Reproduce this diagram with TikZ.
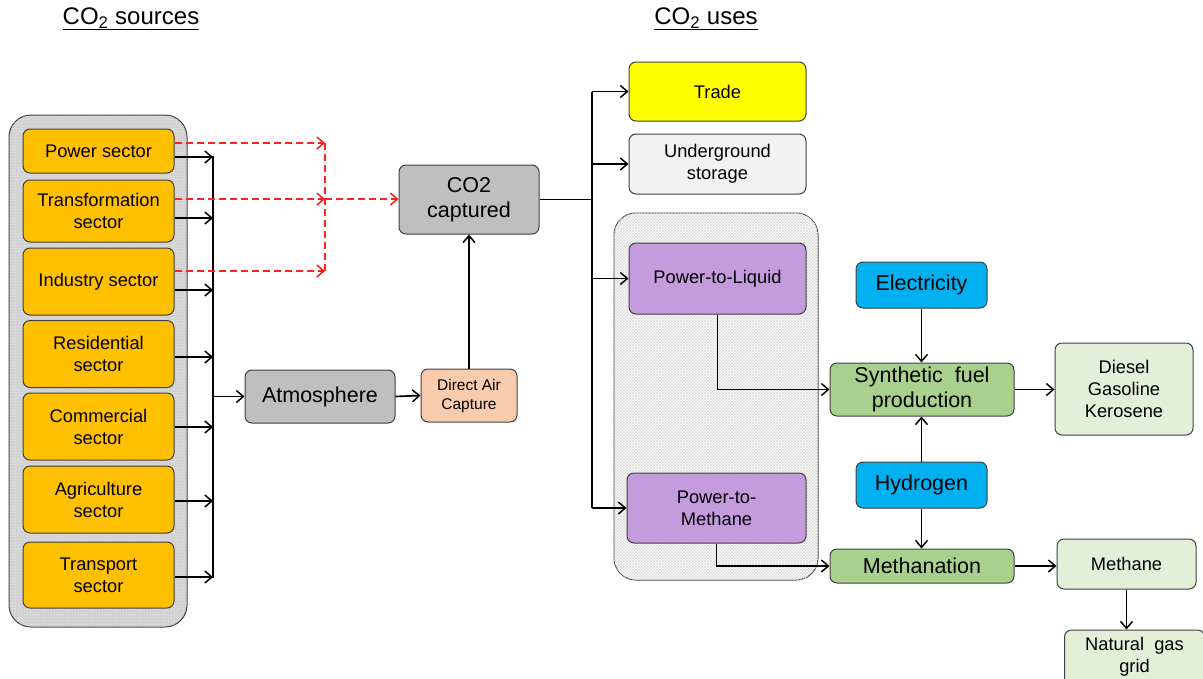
\documentclass[tikz,border=0pt]{standalone}
\usepackage{fontspec}
\setmainfont{Liberation Sans}
\usetikzlibrary{arrows.meta,patterns}
\definecolor{bordc}{HTML}{404040}
\definecolor{orF}{HTML}{FFC000}
\definecolor{grF}{HTML}{BFBFBF}
\definecolor{peF}{HTML}{F8CBAD}
\definecolor{yeF}{HTML}{FFFF00}
\definecolor{lgF}{HTML}{F2F2F2}
\definecolor{puF}{HTML}{C49BDD}
\definecolor{gnF}{HTML}{A9D18E}
\definecolor{blF}{HTML}{00B0F0}
\definecolor{lnF}{HTML}{E2F0D9}
\definecolor{rdL}{HTML}{FF2020}
\begin{document}
\begin{tikzpicture}[x=1pt,y=-1pt,
  box/.style={draw=bordc, line width=1pt, rounded corners=7pt, align=center, inner sep=2pt},
  fs/.style={font=\fontsize{18.3}{22}\selectfont},
  fl/.style={font=\fontsize{21.5}{25}\selectfont},
  ft/.style={font=\fontsize{15.5}{19}\selectfont},
  srcbox/.style={box, fs, fill=orF, minimum width=151pt},
  arr/.style={line width=1.7pt, -{Straight Barb[length=7pt,width=12pt,line width=1.5pt]}},
  ln/.style={line width=1.7pt},
  rarr/.style={line width=1.7pt, rdL, dash pattern=on 7pt off 4pt, -{Straight Barb[length=7pt,width=12pt,line width=1.5pt]}},
  rln/.style={line width=1.7pt, rdL, dash pattern=on 7pt off 4pt},
  grp/.style={draw=bordc, line width=1pt, rounded corners=22pt}
]
\useasboundingbox (0,0) rectangle (1203,678);
\clip (0,0) rectangle (1203,678);

% titles
\node[font=\fontsize{24}{28}\selectfont] (t1) at (131,19) {\underline{CO\textsubscript{2} sources}};
\node[font=\fontsize{24}{28}\selectfont] (t2) at (706,19) {\underline{CO\textsubscript{2} uses}};

% group containers
\node[grp, fill=gray!35, postaction={pattern=dots, pattern color=white}, minimum width=178pt, minimum height=512pt] (srcgrp) at (98,371) {};
\node[grp, fill=white, postaction={pattern=crosshatch, pattern color=gray!28}, minimum width=204pt, minimum height=367pt] (ptxgrp) at (716,396.5) {};

% sources
\node[srcbox, minimum height=44pt] (power) at (98.5,151) {Power sector};
\node[srcbox, minimum height=62pt] (transf) at (98.5,211) {Transformation\\sector};
\node[srcbox, minimum height=67pt] (indus) at (98.5,281.5) {Industry sector};
\node[srcbox, minimum height=67pt] (resid) at (98.5,354) {Residential\\sector};
\node[srcbox, minimum height=67pt] (comm) at (98.5,426.5) {Commercial\\sector};
\node[srcbox, minimum height=67pt] (agri) at (98.5,499.5) {Agriculture\\sector};
\node[srcbox, minimum height=66pt] (trans) at (98.5,575) {Transport\\sector};

% middle
\node[box, fl, fill=grF, minimum width=150pt, minimum height=53pt] (atm) at (320,396.5) {Atmosphere};
\node[box, ft, fill=peF, minimum width=96pt, minimum height=53pt] (dac) at (469,395.5) {Direct Air\\Capture};
\node[box, fl, fill=grF, minimum width=140pt, minimum height=69pt] (co2) at (469,199.5) {CO2\\captured};

% uses
\node[box, fs, fill=yeF, minimum width=177pt, minimum height=59pt] (trade) at (717.5,91.5) {Trade};
\node[box, fs, fill=lgF, minimum width=177pt, minimum height=60pt] (under) at (717.5,164) {Underground\\storage};
\node[box, fs, fill=puF, minimum width=177pt, minimum height=71pt] (ptl) at (717.5,278.5) {Power-to-Liquid};
\node[box, fs, fill=puF, minimum width=179pt, minimum height=70pt] (ptm) at (716.5,508) {Power-to-\\Methane};

\node[box, fl, fill=blF, minimum width=131pt, minimum height=46pt] (elec) at (921.5,285) {Electricity};
\node[box, fl, fill=gnF, minimum width=184pt, minimum height=53pt] (synth) at (922,389.5) {Synthetic\ \ fuel\\production};
\node[box, fs, fill=lnF, minimum width=138pt, minimum height=92pt, font=\fontsize{18.3}{22}\selectfont] (diesel) at (1124,389) {Diesel\\Gasoline\\Kerosene};
\node[box, fl, fill=blF, minimum width=131pt, minimum height=46pt] (hyd) at (921.5,485) {Hydrogen};
\node[box, fl, fill=gnF, minimum width=184pt, minimum height=34pt] (methn) at (922,566) {Methanation};
\node[box, fs, fill=lnF, minimum width=139pt, minimum height=50pt] (methane) at (1126.5,564) {Methane};
\node[box, fs, fill=lnF, minimum width=140pt, minimum height=60pt, text depth=10pt] (ngrid) at (1134.5,660) {Natural\ \ gas\\grid};

% bus coordinates
\coordinate (sbus) at (213,0);
\coordinate (rbus) at (325,0);
\coordinate (ubus) at (592,0);

% sources to bus
\draw[arr] (power.east |- 0,157) -- (sbus |- 0,157);
\draw[arr] (transf.east |- 0,218) -- (sbus |- 0,218);
\draw[arr] (indus.east |- 0,290) -- (sbus |- 0,290);
\draw[arr] (resid.east |- 0,357) -- (sbus |- 0,357);
\draw[arr] (comm.east |- 0,427) -- (sbus |- 0,427);
\draw[arr] (agri.east |- 0,501) -- (sbus |- 0,501);
\draw[arr] (trans.east |- 0,577) -- (sbus |- 0,577);
\draw[ln] (sbus |- 0,156) -- (sbus |- 0,578);
\draw[arr] (sbus |- atm.west) -- (atm.west);

% red dashed capture
\draw[rarr] (power.east |- 0,143) -- (rbus |- 0,143);
\draw[rarr] (transf.east |- 0,199) -- (rbus |- 0,199);
\draw[rarr] (indus.east |- 0,271) -- (rbus |- 0,271);
\draw[rln] (rbus |- 0,143) -- (rbus |- 0,271);
\draw[rarr] (rbus |- 0,199) -- (co2.west |- 0,199);

% middle arrows
\draw[arr] (atm.east) -- (dac.west);
\draw[arr] (dac.north) -- (co2.south);

% uses bus
\draw[ln] (co2.east) -- (ubus |- co2.east);
\draw[ln] (ubus |- trade.west) -- (ubus |- ptm.west);
\draw[arr] (ubus |- trade.west) -- (trade.west);
\draw[arr] (ubus |- under.west) -- (under.west);
\draw[arr] (ubus |- ptl.west) -- (ptl.west);
\draw[arr] (ubus |- ptm.west) -- (ptm.west);

% conversion chain
\draw[arr] (ptl.south) |- (synth.west);
\draw[arr] (ptm.south) |- (methn.west);
\draw[arr] (elec.south) -- (elec.south |- synth.north);
\draw[arr] (hyd.north) -- (hyd.north |- synth.south);
\draw[arr] (hyd.south) -- (hyd.south |- methn.north);
\draw[arr] (synth.east) -- (diesel.west |- synth.east);
\draw[arr] (methn.east) -- (methane.west |- methn.east);
\draw[arr] (methane.south) -- (methane.south |- ngrid.north);
\end{tikzpicture}
\end{document}
